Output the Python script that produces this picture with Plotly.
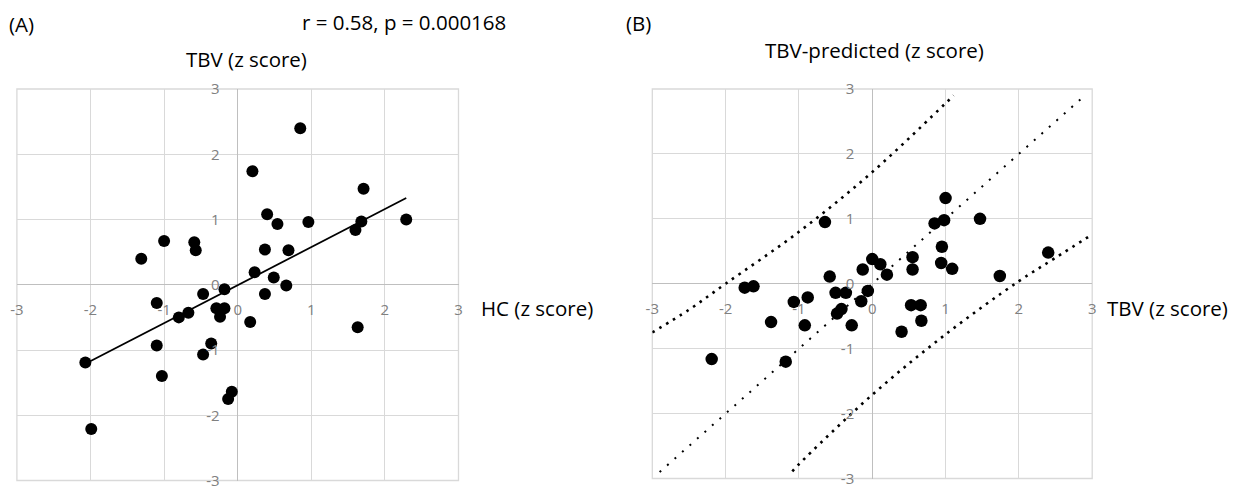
import numpy as np
import plotly.graph_objects as go

# ---------------- data ----------------
# Panel A: HC (z score) vs TBV (z score)
hc_z = [0.85, 0.20, 1.71, 0.40, 0.54, 0.96, 1.68, 1.60, 2.29,
        -1.00, -0.59, -0.57, -1.31, 0.37, 0.69, 0.23, 0.49, 0.66,
        -0.18, -0.47, 0.37, -1.10, -0.29, -0.18, -0.24, -0.67, -0.80,
        0.17, 1.63, -0.36, -1.10, -0.47, -2.07, -1.03, -0.08, -0.13, -1.99]
tbv_z_a = [2.40, 1.74, 1.47, 1.08, 0.93, 0.96, 0.97, 0.84, 1.00,
           0.67, 0.65, 0.53, 0.40, 0.54, 0.53, 0.19, 0.11, -0.01,
           -0.07, -0.14, -0.14, -0.28, -0.36, -0.36, -0.49, -0.43, -0.50,
           -0.57, -0.65, -0.90, -0.93, -1.07, -1.19, -1.40, -1.64, -1.75, -2.21]
stats_text = "r = 0.58, p = 0.000168"

# Panel B: TBV (z score) vs TBV-predicted (z score)
tbv_z_b = [-0.645, 1.00, 0.85, 0.98, 1.47, 0.95, 0.55, 0.55, 0.94, 1.09,
           1.74, 2.40, 0.00, 0.11, 0.20, -0.13, -0.58, -1.74, -1.62, -1.07,
           -0.88, -0.50, -0.36, -0.06, -0.15, -0.48, -0.42, -0.28, -0.92, -1.38,
           0.40, 0.53, 0.66, 0.67, -2.19, -1.18]
tbv_pred_z = [0.95, 1.32, 0.93, 0.98, 1.00, 0.57, 0.41, 0.22, 0.32, 0.23,
              0.12, 0.48, 0.38, 0.30, 0.14, 0.22, 0.11, -0.06, -0.04, -0.28,
              -0.21, -0.14, -0.14, -0.11, -0.27, -0.46, -0.39, -0.64, -0.64, -0.59,
              -0.74, -0.33, -0.33, -0.57, -1.16, -1.20]
identity_x = [-2.9, 2.9]
identity_y = [-2.9, 2.9]
band_upper_x = [-3.0, -2.5, -2.0, -1.0, 0.0, 1.0, 1.11]
band_upper_y = [-0.75, -0.40, 0.0, 0.80, 1.72, 2.78, 2.90]
band_lower_x = [-1.09, -1.0, 0.0, 1.0, 2.0, 2.5, 3.0]
band_lower_y = [-2.89, -2.78, -1.71, -0.78, 0.04, 0.40, 0.76]

tick_vals = [-3, -2, -1, 0, 1, 2, 3]
tick_text = ["-3", "-2", "-1", "0", "1", "2", "3"]
axis_range = [-3, 3]

# ---------------- layout geometry (pixels -> paper) ----------------
W, H = 1242, 488
OFF = 8  # page body margin
def px_x(p): return (p - OFF) / W
def px_y(p): return 1 - (p - OFF) / H

dom_xa = [px_x(16.9), px_x(458.5)]
dom_ya = [px_y(480.5), px_y(89)]
dom_xb = [px_x(652.3), px_x(1092.2)]
dom_yb = [px_y(478.5), px_y(89)]

def zero_pos(dom):
    return dom[0] + (0 - axis_range[0]) / (axis_range[1] - axis_range[0]) * (dom[1] - dom[0])

GRID = "#d9d9d9"
ZERO = "#bfbfbf"
TICKC = "#808080"
FONT = "Open Sans"

fig = go.Figure()

# Panel A
fig.add_trace(go.Scatter(x=hc_z, y=tbv_z_a, mode="markers",
                         marker=dict(size=12, color="black"),
                         xaxis="x", yaxis="y", showlegend=False))
slope, intercept = np.polyfit(hc_z, tbv_z_a, 1)
lx = np.array([min(hc_z), max(hc_z)])
fig.add_trace(go.Scatter(x=lx, y=slope * lx + intercept, mode="lines",
                         line=dict(color="black", width=1.75),
                         xaxis="x", yaxis="y", showlegend=False))

# Panel B
fig.add_trace(go.Scatter(x=band_upper_x, y=band_upper_y, mode="lines",
                         line=dict(color="black", width=2.6, dash="2.6px,5.4px", shape="spline"),
                         xaxis="x2", yaxis="y2", showlegend=False))
fig.add_trace(go.Scatter(x=band_lower_x, y=band_lower_y, mode="lines",
                         line=dict(color="black", width=2.6, dash="2.6px,5.4px", shape="spline"),
                         xaxis="x2", yaxis="y2", showlegend=False))
fig.add_trace(go.Scatter(x=identity_x, y=identity_y, mode="lines",
                         line=dict(color="black", width=2, dash="2px,8px"),
                         xaxis="x2", yaxis="y2", showlegend=False))
fig.add_trace(go.Scatter(x=tbv_z_b, y=tbv_pred_z, mode="markers",
                         marker=dict(size=12.5, color="black"),
                         xaxis="x2", yaxis="y2", showlegend=False))

def common_axis():
    return dict(range=axis_range, tickvals=tick_vals, ticktext=tick_text,
                showgrid=True, gridcolor=GRID, gridwidth=1.3,
                zeroline=True, zerolinecolor=ZERO, zerolinewidth=1.3,
                showline=False, ticks="outside", tickcolor="rgba(0,0,0,0)",
                anchor="free", automargin=False,
                tickfont=dict(family=FONT, size=15, color=TICKC), fixedrange=True)

def xaxis(dom, ydom):
    d = common_axis()
    d.update(domain=dom, position=zero_pos(ydom), ticklen=11)
    return d

def yaxis(dom, xdom):
    d = common_axis()
    d.update(domain=dom, position=zero_pos(xdom), ticklen=15)
    return d

ann_font = dict(family=FONT, size=20.5, color="black")
annotations = [
    dict(text="(A)", x=px_x(8), y=px_y(24), xanchor="left", yanchor="middle"),
    dict(text=stats_text, x=px_x(301), y=px_y(22), xanchor="left", yanchor="middle"),
    dict(text="TBV (z score)", x=px_x(246), y=px_y(59), xanchor="center", yanchor="middle"),
    dict(text="HC (z score)", x=px_x(480), y=px_y(308), xanchor="left", yanchor="middle"),
    dict(text="(B)", x=px_x(625), y=px_y(23), xanchor="left", yanchor="middle"),
    dict(text="TBV-predicted (z score)", x=px_x(874), y=px_y(50), xanchor="center", yanchor="middle"),
    dict(text="TBV (z score)", x=px_x(1106), y=px_y(308), xanchor="left", yanchor="middle"),
]
for a in annotations:
    a.update(xref="paper", yref="paper", showarrow=False, font=ann_font, borderpad=0)

shapes = []
for xr, yr in (("x", "y"), ("x2", "y2")):
    shapes.append(dict(type="rect", xref=xr + " domain", yref=yr + " domain",
                       x0=0, x1=1, y0=0, y1=1,
                       line=dict(color=GRID, width=1.3), layer="below"))

fig.update_layout(
    template="none",
    width=W, height=H,
    margin=dict(l=0, r=0, t=0, b=0, pad=0, autoexpand=False),
    paper_bgcolor="white", plot_bgcolor="white",
    xaxis=xaxis(dom_xa, dom_ya), yaxis=yaxis(dom_ya, dom_xa),
    xaxis2=xaxis(dom_xb, dom_yb), yaxis2=yaxis(dom_yb, dom_xb),
    annotations=annotations, shapes=shapes,
    font=dict(family=FONT),
    showlegend=False,
)
fig.write_html("out.html")
